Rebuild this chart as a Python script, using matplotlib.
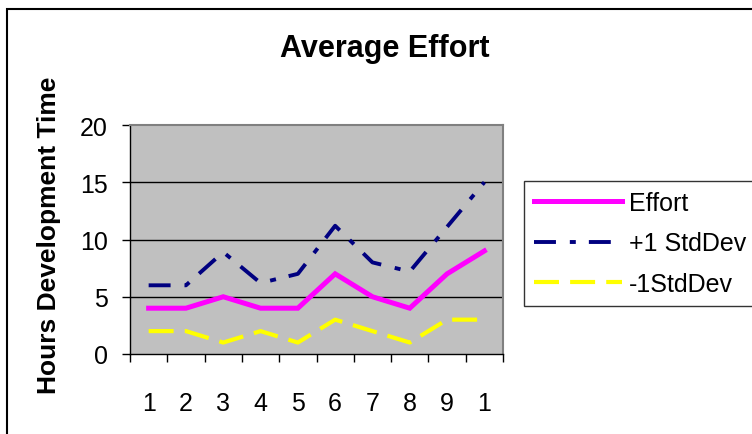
import numpy as np
import matplotlib
matplotlib.use("Agg")
import matplotlib.pyplot as plt
from matplotlib.patches import Rectangle

plt.rcParams['font.family'] = ['Liberation Sans', 'DejaVu Sans']
plt.rcParams['lines.scale_dashes'] = False

# data
categories = [1, 2, 3, 4, 5, 6, 7, 8, 9, 10]
tick_labels = ["1", "2", "3", "4", "5", "6", "7", "8", "9", "1"]
effort = [4, 4, 5, 4, 4, 7, 5, 4, 7, 9]
plus_sd = [6, 6, 8.9, 6.2, 7, 11.2, 8, 7.2, 11.1, 15]
minus_sd = [2, 2, 1, 2, 1, 3, 2, 1, 3, 3]

W, H = 752, 435
fig = plt.figure(figsize=(W / 100, H / 100), dpi=100)

# outer chart border (runs off right / bottom like the original)
fig.patches.append(Rectangle((7 / W, -0.05), 1.1, 1 - 10 / H + 0.05,
                             transform=fig.transFigure, fill=False,
                             edgecolor='black', linewidth=1.5))

ax = fig.add_axes([130 / W, 1 - 355 / H, (503 - 130) / W, (355 - 126) / H])
ax.set_facecolor('#C0C0C0')

x = np.array(categories)
ax.plot(x, effort, color='#FF00FF', linewidth=3.6, label='Effort',
        solid_joinstyle='miter', zorder=3)
ax.plot(x, plus_sd, color='#000080', linewidth=2.8, label='+1 StdDev',
        linestyle=(0, (15.8, 10, 4.3, 9.4)), zorder=3)
ax.plot(x, minus_sd, color='#FFFF00', linewidth=3.0, label='-1StdDev',
        linestyle=(0, (18, 8)), zorder=3)

ax.set_xlim(0.5, 10.5)
ax.set_ylim(0, 20)
ax.set_yticks([0, 5, 10, 15, 20])
for yv in [5, 10, 15]:
    ax.axhline(yv, color='black', linewidth=1.0, zorder=1)

ax.set_xticks(x)
ax.set_xticklabels(tick_labels)
ax.set_xticks(np.arange(0.5, 11, 1), minor=True)
ax.tick_params(axis='x', which='major', length=0, pad=27, labelsize=18)
ax.tick_params(axis='x', which='minor', length=6, width=1, direction='out')
ax.tick_params(axis='y', length=6, width=1, direction='out', pad=10, labelsize=18)

for side in ['left', 'bottom']:
    ax.spines[side].set_color('black')
    ax.spines[side].set_linewidth(1.0)
for side in ['top', 'right']:
    ax.spines[side].set_color('#808080')
    ax.spines[side].set_linewidth(1.5)

fig.text(385 / W, 1 - 57 / H, 'Average Effort', ha='center', va='baseline',
         fontsize=22, fontweight='bold')
fig.text(49 / W, 1 - 235 / H, 'Hours Development Time', ha='center', va='center',
         rotation=90, fontsize=19, fontweight='bold')

leg = fig.legend(loc='upper left', bbox_to_anchor=(524 / W, 1 - 182 / H),
                 fontsize=18, frameon=True, fancybox=False, shadow=False,
                 borderaxespad=0, handlelength=3.5, handletextpad=0.3,
                 labelspacing=0.65, borderpad=0.4)
leg.get_frame().set_edgecolor('black')
leg.get_frame().set_linewidth(1.0)

fig.savefig('out.png', dpi=100)
